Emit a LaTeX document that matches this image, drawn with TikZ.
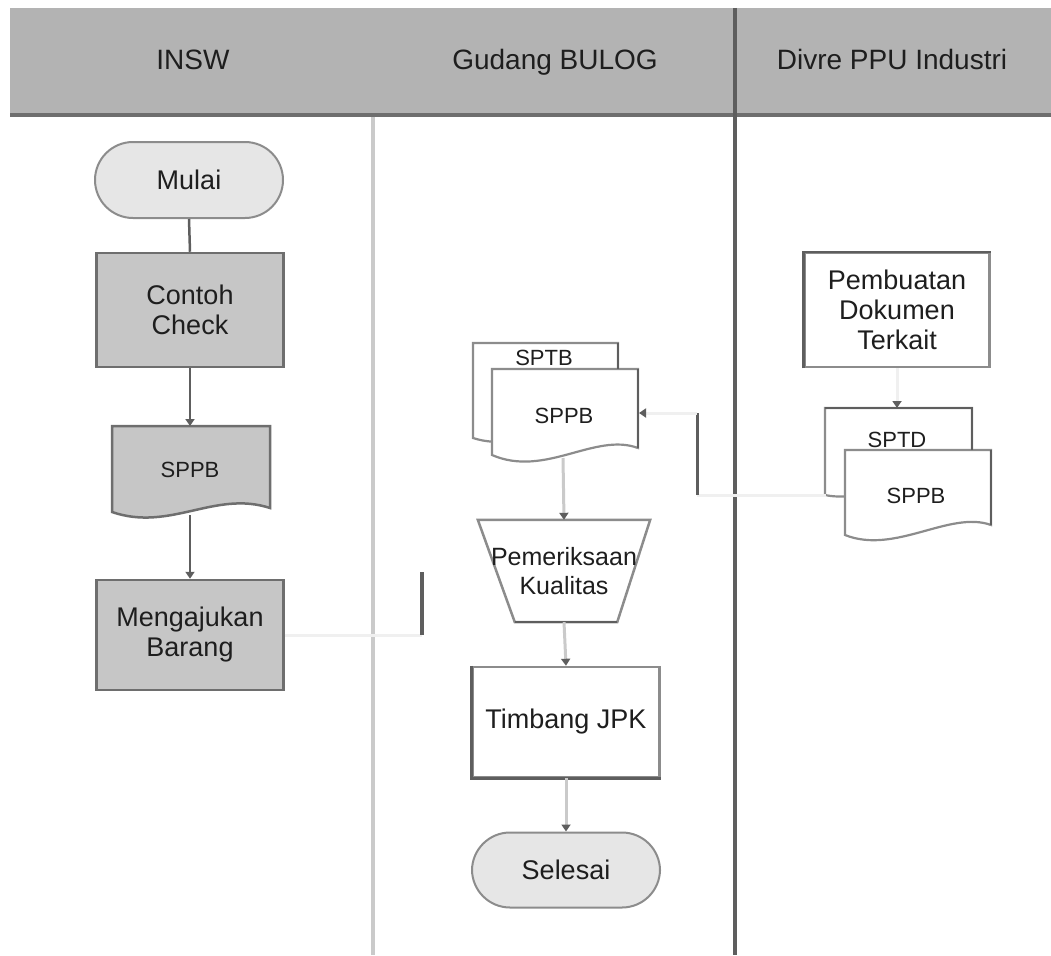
\documentclass[tikz,border=0pt]{standalone}
\usepackage{fontspec}
\setmainfont{Liberation Sans}
\usetikzlibrary{arrows.meta,backgrounds}
\definecolor{hdr}{HTML}{B3B3B3}
\definecolor{hdrline}{HTML}{6E6E6E}
\definecolor{darkln}{HTML}{5E5E5E}
\definecolor{lightln}{HTML}{CACACA}
\definecolor{boxfill}{HTML}{C6C6C6}
\definecolor{termfill}{HTML}{E6E6E6}
\definecolor{faintln}{HTML}{F0F0F0}
\definecolor{txt}{HTML}{1E1E1E}
\definecolor{edge}{HTML}{8C8C8C}
\begin{document}
\begin{tikzpicture}[x=1pt,y=-1pt,
  lbl/.style={font=\fontsize{27}{30}\selectfont, text=txt, align=center, inner sep=0pt},
  doclbl/.style={font=\fontsize{22}{24}\selectfont, text=txt, inner sep=0pt},
  hdrlbl/.style={font=\fontsize{28}{30}\selectfont, text=txt, inner sep=0pt, anchor=base},
  procgray/.style={lbl, draw=hdrline, fill=boxfill, line width=2.5pt, minimum width=187pt},
  procwhite/.style={lbl, draw=edge, fill=white, line width=2.5pt, minimum width=187pt},
  term/.style={lbl, draw=edge, fill=termfill, line width=2pt, minimum width=188pt, minimum height=76pt, rounded corners=38pt},
  tip/.style={-{Triangle[length=7pt,width=9pt,color=darkln]}},
  darkconn/.style={draw=darkln, line width=2.5pt},
  lightconn/.style={draw=lightln, line width=3pt},
  faintconn/.style={draw=faintln, line width=3pt},
  docshape/.style={draw=edge, line width=2.2pt, fill=white}
]
\useasboundingbox (0,0) rectangle (1051,955);

% header
\fill[hdr] (10,8) rectangle (1051,115);
\draw[hdrline, line width=4pt] (10,115) -- (1051,115);
\node[hdrlbl] (hinsw) at (193,70) {INSW};
\node[hdrlbl] (hgud) at (555,70) {Gudang BULOG};
\node[hdrlbl] (hdiv) at (892,70) {Divre PPU Industri};

% lane separators
\draw[lightln, line width=4pt] (373,117) -- (373,955);
\draw[darkln, line width=4pt] (735,8) -- (735,955);

% INSW lane
\node[term] (mulai) at (189,180) {Mulai};
\node[procgray, minimum height=114pt] (contoh) at (190,310) {Contoh\\Check};
\fill[boxfill] (112,426) -- (270,426) -- (270,508) .. controls (215,490) and (170,532) .. (112,512) -- cycle;
\draw[hdrline, line width=2.5pt] (112,426) -- (270,426) -- (270,508) .. controls (215,490) and (170,532) .. (112,512) -- cycle;
\node[doclbl] (sppbL) at (190,470) {SPPB};
\coordinate (sppbLN) at (190,426);
\coordinate (sppbLS) at (190,515);
\node[procgray, minimum height=110pt] (meng) at (190,635) {Mengajukan\\Barang};

\draw[darkconn] (mulai.south) -- (contoh.north);
\draw[darkconn, tip] (contoh.south) -- (sppbLN);
\draw[darkconn, tip] (sppbLS) -- (meng.north);

\coordinate (bendA) at (422,635);
\coordinate (bendB) at (422,572);
\draw[faintconn] (meng.east) -- (bendA);
\draw[darkln, line width=4pt] (bendA) -- (bendB);

% Gudang lane: stacked documents
\draw[docshape] (473,343) -- (618,343) -- (618,425) .. controls (580,410) and (525,455) .. (473,438) -- cycle;
\draw[docshape] (492,369) -- (638,369) -- (638,448) .. controls (595,432) and (545,478) .. (492,455) -- cycle;
\draw[darkln, line width=2.5pt] (618,343) -- (618,369);
\draw[darkln, line width=2.5pt] (638,369) -- (638,448);
\node[doclbl] (sptbM) at (544,358) {SPTB};
\node[doclbl] (sppbM) at (564,416) {SPPB};
\coordinate (mdE) at (639,413);
\coordinate (mdS) at (563,458);

\node[lbl, font=\fontsize{25}{29}\selectfont, minimum width=172pt, minimum height=102pt] (pk) at (564,571) {Pemeriksaan\\Kualitas};
\begin{scope}[on background layer]
\draw[edge, line width=2.5pt, fill=white] (pk.north west) -- (pk.north east) -- ([xshift=-33pt]pk.south east) -- ([xshift=37pt]pk.south west) -- cycle;
\draw[darkln, line width=2.5pt] ([xshift=-33pt]pk.south east) -- ([xshift=37pt]pk.south west);
\end{scope}

\node[procwhite, minimum height=110pt] (timb) at (566,722) {Timbang JPK};
\draw[darkln, line width=2.5pt] (timb.north west) -- (timb.south west) -- (timb.south east);
\node[term, minimum height=75pt] (sel) at (566,870) {Selesai};

\draw[lightconn, tip] (mdS) -- (pk.north);
\draw[lightconn, tip] (pk.south) -- (timb.north);
\draw[lightconn, tip] (timb.south) -- (sel.north);

% Divre lane
\node[procwhite, minimum width=185pt, minimum height=114pt] (pemb) at (897,310) {Pembuatan\\Dokumen\\Terkait};
\draw[darkln, line width=2.5pt] (pemb.south west) -- (pemb.north west) -- (pemb.north east);

\draw[docshape] (825,408) -- (972,408) -- (972,480) .. controls (930,462) and (870,505) .. (825,495) -- cycle;
\draw[docshape] (845,450) -- (991,450) -- (991,525) .. controls (950,510) and (895,555) .. (845,535) -- cycle;
\draw[darkln, line width=2.5pt] (825,408) -- (972,408) -- (972,450);
\draw[darkln, line width=2.5pt] (991,450) -- (991,525);
\node[doclbl] (sptdR) at (897,440) {SPTD};
\node[doclbl] (sppbR) at (916,496) {SPPB};
\coordinate (rdN) at (897,408);
\coordinate (rdW) at (826,495);

\draw[faintconn, tip] (pemb.south) -- (rdN);
\coordinate (bendC) at (697,495);
\coordinate (bendD) at (697,413);
\draw[faintconn] (rdW) -- (bendC);
\draw[darkln, line width=3pt] (bendC) -- (bendD);
\draw[faintconn, tip] (bendD) -- (mdE);
\end{tikzpicture}
\end{document}
